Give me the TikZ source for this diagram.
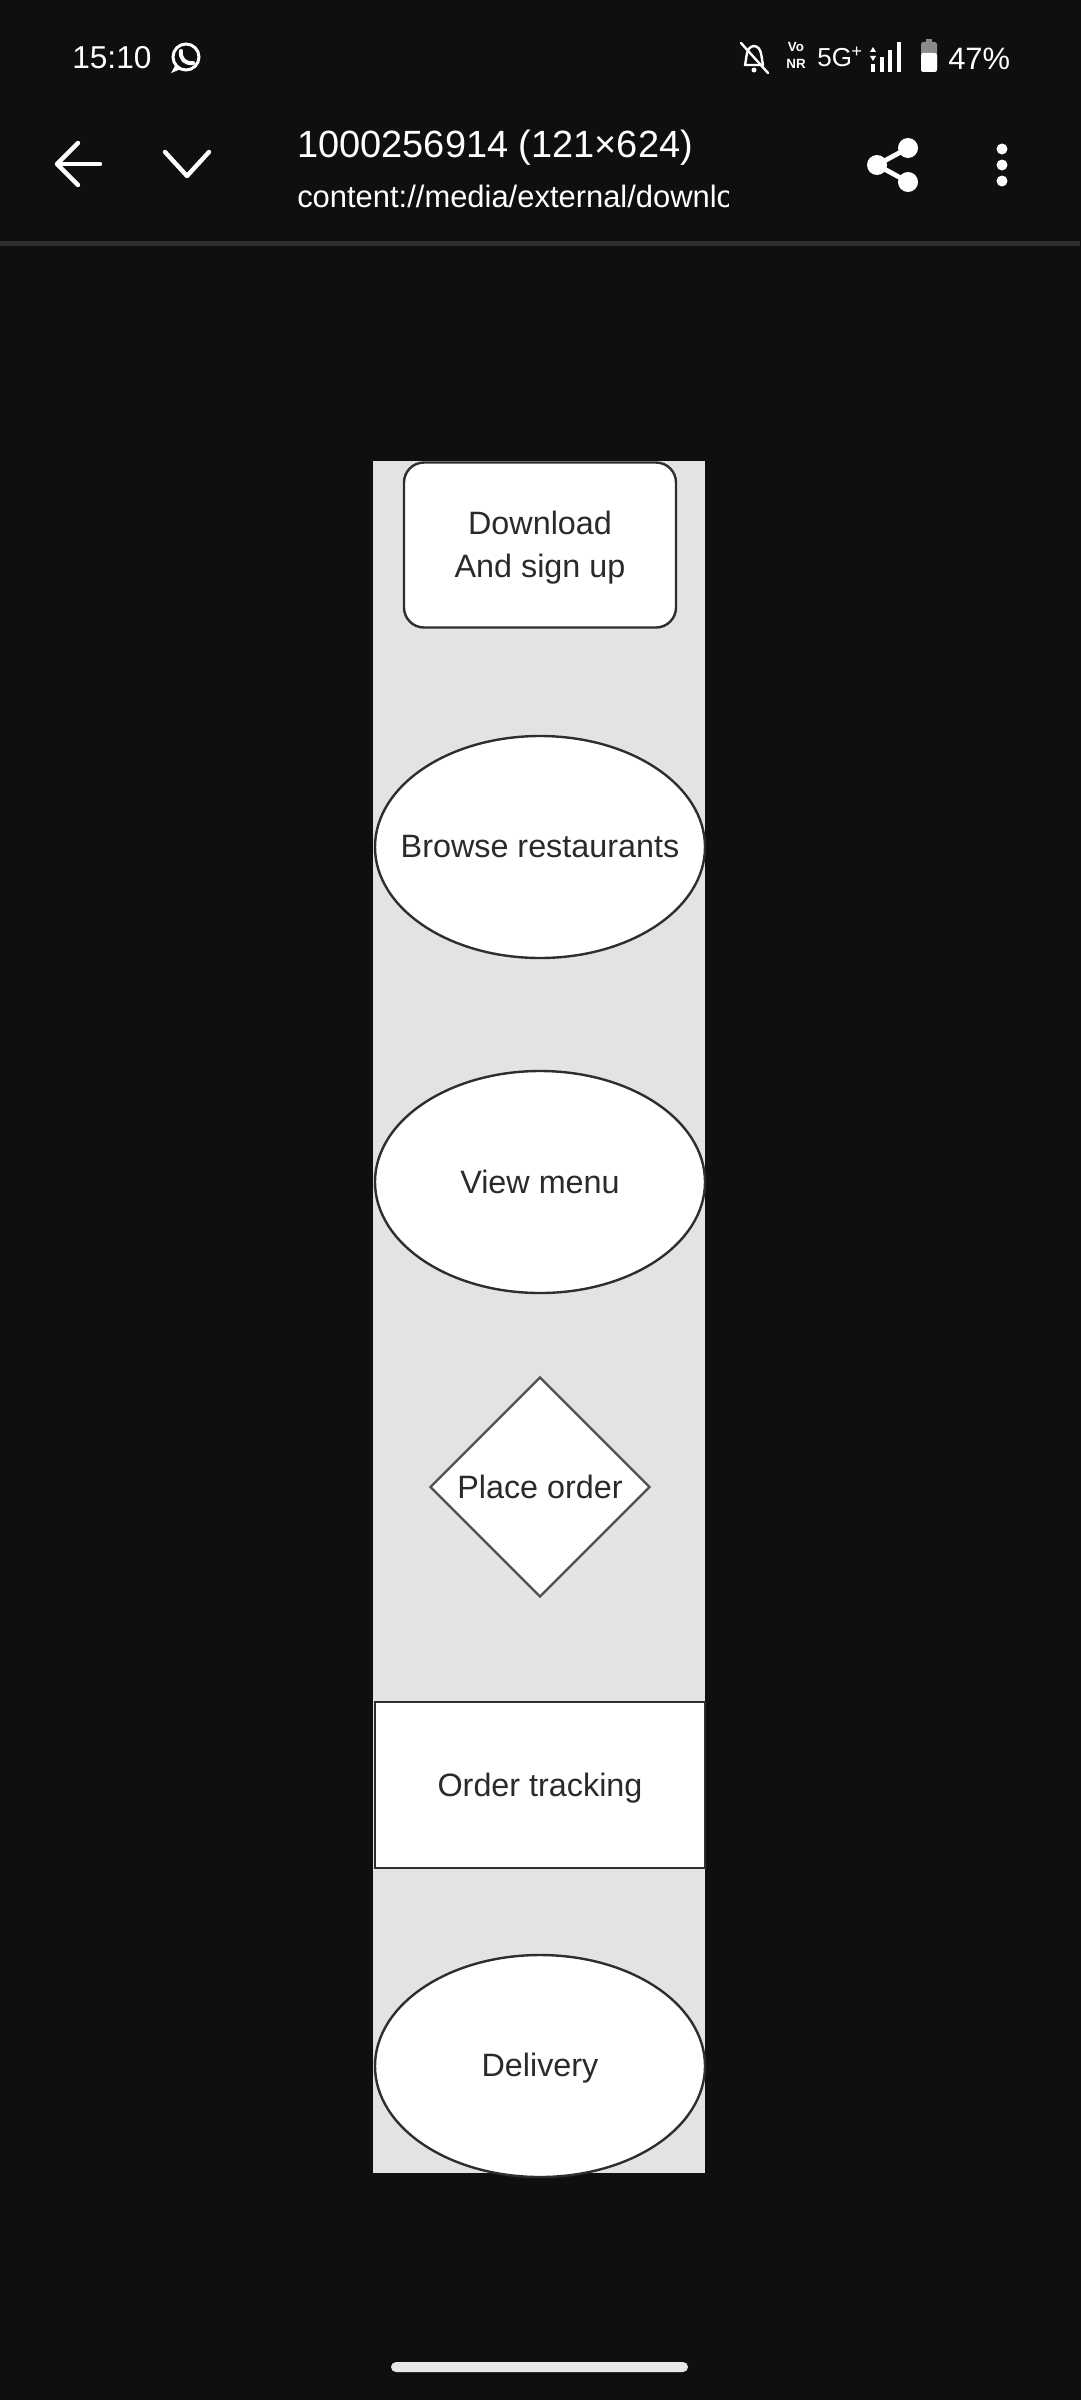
\documentclass[tikz,border=0pt]{standalone}
\usepackage{fontspec}
\usepackage{graphicx}
\setmainfont{Liberation Sans}
\usetikzlibrary{shapes.geometric}

\definecolor{screenbg}{HTML}{0F0F0F}
\definecolor{sepline}{HTML}{2C2C2C}
\definecolor{panelbg}{HTML}{E3E3E3}
\definecolor{edgeclr}{HTML}{2E2E2E}
\definecolor{diaclr}{HTML}{505050}
\definecolor{labelclr}{HTML}{2A2A2A}
\definecolor{homebar}{HTML}{E8E8E8}
\definecolor{battgray}{HTML}{8A8A8A}

\tikzset{
  shapeline/.style={draw=edgeclr, line width=0.6mm, fill=white, inner sep=0pt},
  oval/.style={shapeline, ellipse, minimum width=82.5mm, minimum height=55.5mm},
  roundbox/.style={shapeline, rectangle, rounded corners=5mm, minimum width=68mm, minimum height=41.25mm},
  plainbox/.style={shapeline, rectangle, minimum width=82.5mm, minimum height=41.5mm},
  decision/.style={shapeline, draw=diaclr, diamond, minimum width=55mm, minimum height=55mm},
  lbl/.style={text=labelclr, align=center, inner sep=0pt, font=\fontsize{23}{30.5}\selectfont},
  bartext/.style={text=white, inner sep=0pt},
  icon/.style={white, line width=1.1mm, line cap=round, line join=round}
}

\begin{document}
\begin{tikzpicture}[x=0.25mm, y=-0.25mm]
  \useasboundingbox (0,0) rectangle (1080,2400);
  \fill[screenbg] (-10,-10) rectangle (1090,2410);

  % ---- status bar ----
  \node[bartext, anchor=base west, font=\fontsize{22.5}{26}\selectfont] (clock) at (72,68) {15:10};
  % chat app badge
  \draw[white, line width=0.75mm] (186,57) circle (13);
  \fill[white] (176,64) -- (171,73) -- (181,69) -- cycle;
  \draw[white, line width=1mm, line cap=round] (181,51) .. controls (180,59) and (185,64) .. (193,63);
  % muted bell
  \draw[white, line width=0.6mm, line join=round] (745,65) .. controls (747,56) and (746,47) .. (754,46) .. controls (762,47) and (761,56) .. (763,65) -- cycle;
  \fill[white] (754,70) circle (2.5);
  \draw[white, line width=0.6mm, line cap=round] (741,43) -- (768,73);
  % network labels
  \node[bartext, anchor=base, font=\bfseries\fontsize{9.5}{10}\selectfont] (vo) at (796,52) {Vo};
  \node[bartext, anchor=base, font=\bfseries\fontsize{9.5}{10}\selectfont] (nr) at (796,68) {NR};
  \node[bartext, anchor=base west, font=\fontsize{18.5}{20}\selectfont] (fiveg) at (817,67) {5G};
  \node[bartext, anchor=base west, font=\fontsize{13}{14}\selectfont] (plus) at (851,58) {+};
  % signal bars
  \fill[white] (870,52) -- (876,52) -- (873,47) -- cycle;
  \fill[white] (870,56) -- (876,56) -- (873,61) -- cycle;
  \fill[white] (871,64) rectangle (875,72);
  \fill[white] (880,57) rectangle (884,72);
  \fill[white] (888,50) rectangle (892,72);
  \fill[white] (897,42) rectangle (901,72);
  % battery
  \fill[battgray] (926,39) rectangle (932,42);
  \fill[battgray, rounded corners=0.6mm] (921,42) rectangle (937,72);
  \fill[white, rounded corners=0.6mm] (921,53) rectangle (937,72);
  \node[bartext, anchor=base west, font=\fontsize{22}{26}\selectfont] (batt) at (948,70) {47\%};

  % ---- title bar ----
  \draw[icon] (100,164) -- (58,164);
  \draw[icon] (78,143) -- (57,164) -- (78,185);
  \draw[icon] (165,152) -- (187,176) -- (209,152);
  \node[bartext, anchor=base west, font=\fontsize{27}{30}\selectfont] (title) at (297,157) {1000256914 (121×624)};
  \begin{scope}
    \clip (290,170) rectangle (728,215);
    \node[bartext, anchor=base west, font=\fontsize{22}{26}\selectfont] (uri) at (297,207) {content://media/external/download};
  \end{scope}
  % share
  \draw[white, line width=1.2mm] (908,148) -- (877,165) -- (908,182);
  \fill[white] (908,148) circle (10);
  \fill[white] (877,165) circle (10);
  \fill[white] (908,182) circle (10);
  % overflow menu
  \fill[white] (1002,149) circle (5.5);
  \fill[white] (1002,165) circle (5.5);
  \fill[white] (1002,181) circle (5.5);
  \fill[sepline] (0,241) rectangle (1080,246);

  % ---- flow chart ----
  \fill[panelbg] (373,461) rectangle (705,2173);

  \node[roundbox] (signup) at (540,545) {};
  \node[lbl] (signup-t) at ([yshift=-0.75mm]signup.center) {Download\\And sign up};

  \node[oval] (browse) at (540,847) {};
  \node[lbl] (browse-t) at (browse) {Browse restaurants};

  \node[oval] (menu) at (540,1182) {};
  \node[lbl] (menu-t) at (menu) {View menu};

  \node[decision] (order) at (540,1487) {};
  \node[lbl] (order-t) at (order) {Place order};

  \node[plainbox] (track) at (540,1785) {};
  \node[lbl] (track-t) at ([yshift=-0.75mm]track.center) {Order tracking};

  \node[oval] (deliver) at (540,2066) {};
  \node[lbl] (deliver-t) at ([yshift=-0.5mm]deliver.center) {Delivery};

  % ---- gesture bar ----
  \fill[homebar, rounded corners=1.25mm] (391,2362) rectangle (688,2372);
\end{tikzpicture}
\end{document}
